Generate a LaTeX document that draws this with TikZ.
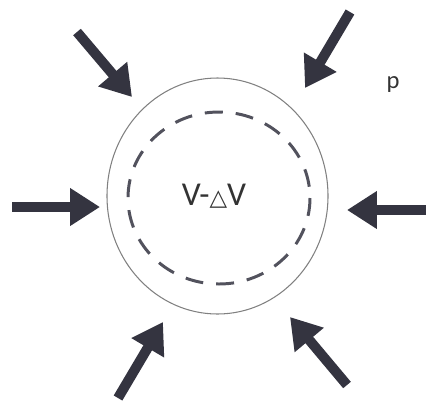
\documentclass[tikz,border=0pt]{standalone}
\usepackage{fontspec}
\setmainfont{Carlito}
\newfontfamily\symfont{DejaVu Sans}
\usetikzlibrary{arrows.meta}
\definecolor{pushcol}{RGB}{52,52,64}

\begin{document}
\begin{tikzpicture}[x=0.02cm, y=-0.02cm,
        push/.style={line width=0.2cm, draw=pushcol, -{Triangle[length=0.6cm, width=0.72cm]}},
        every node/.style={inner sep=0pt, text=black!80, font=\fontsize{19}{21}\selectfont}]

    \useasboundingbox (0,0) rectangle (426,400);

    % wall and the squeezed volume
    \draw[gray, line width=0.6pt] (217.5,196) ellipse [x radius=110.5, y radius=118];
    \draw[pushcol!85, line width=1.7pt, dash pattern=on 0.36cm off 0.26cm] (219,198) ellipse [x radius=91, y radius=86];

    \node (vol) at (214,196) {V-{\symfont\fontsize{13}{14}\selectfont △}V};
    \node (press) at (393,84) {\fontsize{14}{16}\selectfont p};

    % outside pressure
    \coordinate (tlFrom) at (77,32);   \coordinate (tlTo) at (132,97);
    \coordinate (trFrom) at (350,12);  \coordinate (trTo) at (305,88);
    \coordinate (lFrom)  at (12,207);  \coordinate (lTo)  at (100,207);
    \coordinate (rFrom)  at (426,210); \coordinate (rTo)  at (347,210);
    \coordinate (blFrom) at (118,398); \coordinate (blTo) at (163,322);
    \coordinate (brFrom) at (347,385); \coordinate (brTo) at (290,317);

    \draw[push] (tlFrom) -- (tlTo);
    \draw[push] (trFrom) -- (trTo);
    \draw[push] (lFrom) -- (lTo);
    \draw[push] (rFrom) -- (rTo);
    \draw[push] (blFrom) -- (blTo);
    \draw[push] (brFrom) -- (brTo);

\end{tikzpicture}
\end{document}
